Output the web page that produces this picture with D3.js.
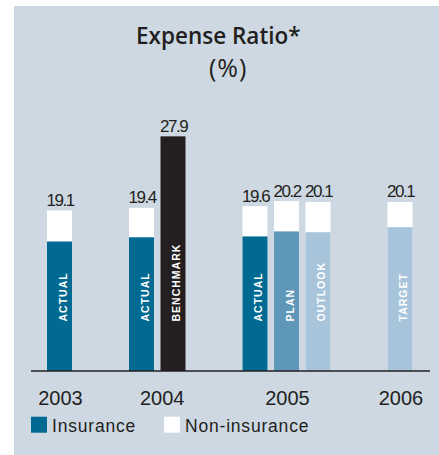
<!DOCTYPE html>
<html>
<head>
<meta charset="utf-8">
<script src="https://cdn.jsdelivr.net/npm/d3@7"></script>
<style>
  html, body { margin: 0; padding: 0; background: #ffffff; }
  svg { display: block; }
</style>
</head>
<body>
<svg id="chart" width="439" height="455"></svg>
<script>
// Expense ratio by year, split into insurance and non-insurance parts
const years = ["2003", "2004", "2005", "2006"];
const barYears = ["2003", "2004", "2004", "2005", "2005", "2005", "2006"];
const barTags = ["ACTUAL", "ACTUAL", "BENCHMARK", "ACTUAL", "PLAN", "OUTLOOK", "TARGET"];
const totalRatio = [19.1, 19.4, 27.9, 19.6, 20.2, 20.1, 20.1];
const insuranceRatio = [15.4, 15.9, 27.9, 16.0, 16.6, 16.5, 17.1];
const hasSplit = [true, true, false, true, true, true, true];
const legendLabels = ["Insurance", "Non-insurance"];

const tagColor = {
  ACTUAL: "#006a92",
  BENCHMARK: "#231f20",
  PLAN: "#5f97b9",
  OUTLOOK: "#a7c4da",
  TARGET: "#a7c4da"
};
const ink = "#231f20";
const panelBg = "#cdd8e2";

const bars = barTags.map((t, i) => ({
  year: barYears[i], tag: t, total: totalRatio[i],
  ins: insuranceRatio[i], split: hasSplit[i]
}));

// Layout units: each bar is 1 unit, bars in a year sit 0.26 apart, years 2.28 apart
const innerGap = 0.26, groupGap = 2.28;
let u = 0;
bars.forEach((b, i) => {
  if (i > 0) u += (b.year === bars[i - 1].year) ? innerGap : groupGap;
  b.u = u;
  u += 1;
});
const totalUnits = u;

const svg = d3.select("#chart");
svg.append("rect").attr("x", 14).attr("y", 6).attr("width", 425).attr("height", 449).attr("fill", panelBg);

const x = d3.scaleLinear().domain([0, totalUnits]).range([47, 412.5]);
const bw = x(1) - x(0);
const y = d3.scaleLinear().domain([0, 30]).range([371, 118.7]);

// Title
svg.append("text").attr("x", 136).attr("y", 44)
  .attr("font-family", "'Open Sans', sans-serif").attr("font-weight", 600)
  .attr("font-size", 22.5).attr("fill", ink).text("Expense Ratio*");
svg.append("text").attr("x", 209).attr("y", 76.5)
  .attr("font-family", "'Open Sans', sans-serif").attr("font-weight", 400)
  .attr("font-size", 25).attr("letter-spacing", 1).attr("fill", ink).text("(%)");

const g = svg.append("g");

// Non-insurance part (whole bar in white) then insurance part on top of it
g.selectAll("rect.total").data(bars).join("rect")
  .attr("class", "total")
  .attr("x", d => x(d.u)).attr("width", bw)
  .attr("y", d => y(d.total)).attr("height", d => y(0) - y(d.total))
  .attr("fill", d => d.split ? "#ffffff" : tagColor[d.tag]);

g.selectAll("rect.ins").data(bars.filter(d => d.split)).join("rect")
  .attr("class", "ins")
  .attr("x", d => x(d.u)).attr("width", bw)
  .attr("y", d => y(d.ins)).attr("height", d => y(0) - y(d.ins))
  .attr("fill", d => tagColor[d.tag]);

// Vertical tags inside the bars
g.selectAll("text.tag").data(bars).join("text")
  .attr("class", "tag")
  .attr("transform", d => `translate(${x(d.u) + bw / 2 + 7},321.5) rotate(-90)`)
  .attr("font-family", "'Liberation Sans', Arial, sans-serif").attr("font-weight", 700)
  .attr("font-size", 10.5).attr("letter-spacing", 1)
  .attr("fill", "#ffffff").text(d => d.tag);

// Value labels
g.selectAll("text.val").data(bars).join("text")
  .attr("class", "val")
  .attr("x", d => x(d.u) + bw / 2 + 0.7).attr("y", d => y(d.total) - 4.5)
  .attr("text-anchor", "middle")
  .attr("font-family", "'Liberation Sans', Arial, sans-serif")
  .attr("font-size", 17).attr("letter-spacing", -1.4)
  .attr("fill", ink).text(d => d3.format(".1f")(d.total));

// Baseline
svg.append("line").attr("x1", 31).attr("x2", 430).attr("y1", y(0)).attr("y2", y(0))
  .attr("stroke", ink).attr("stroke-width", 1.6);

// Year labels centred under each group of bars
const yearCenter = years.map(yr => {
  const bs = bars.filter(b => b.year === yr);
  return (x(bs[0].u) + x(bs[bs.length - 1].u + 1)) / 2;
});
svg.selectAll("text.year").data(years).join("text")
  .attr("class", "year")
  .attr("x", (d, i) => yearCenter[i] + (i === 1 ? 5 : 1)).attr("y", 405)
  .attr("text-anchor", "middle")
  .attr("font-family", "'Liberation Sans', Arial, sans-serif")
  .attr("font-size", 20).attr("fill", ink).text(d => d);

// Legend
const legendX = [31, 164];
const legendFill = ["#006a92", "#ffffff"];
const lg = svg.selectAll("g.leg").data(legendLabels).join("g")
  .attr("class", "leg")
  .attr("transform", (d, i) => `translate(${legendX[i]},416.7)`);
lg.append("rect").attr("width", 16).attr("height", 16).attr("fill", (d, i) => legendFill[i]);
lg.append("text").attr("x", 21).attr("y", 15)
  .attr("font-family", "'Liberation Sans', Arial, sans-serif")
  .attr("font-size", 17.5).attr("letter-spacing", 0.8)
  .attr("fill", ink).text(d => d);
</script>
</body>
</html>
